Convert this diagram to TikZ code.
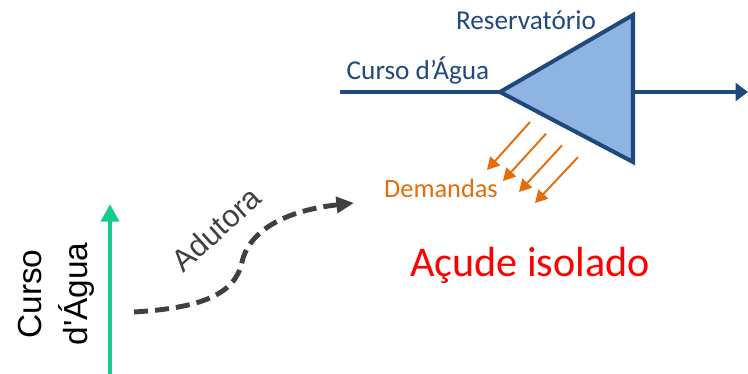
\documentclass[tikz,border=0pt]{standalone}
\usepackage{fontspec}
\usepackage{xcolor}
\usetikzlibrary{arrows.meta}
\setmainfont{Carlito}
\newfontfamily\arialfont{Liberation Sans}
\definecolor{riverblue}{RGB}{31,73,125}
\definecolor{lakefill}{RGB}{142,180,227}
\definecolor{demandorange}{RGB}{228,108,10}
\definecolor{streamgreen}{RGB}{20,204,140}
\definecolor{pipegray}{RGB}{64,64,64}

\begin{document}
\begin{tikzpicture}[x=0.02cm, y=-0.02cm,
  river/.style={riverblue, line width=2.3pt},
  demand/.style={demandorange, line width=1.1pt, -{Triangle[length=7pt, width=7.5pt]}},
  pipe/.style={pipegray, line width=2.8pt, dash pattern=on 8pt off 4pt, -{Triangle[length=10pt, width=9pt]}},
  stream/.style={streamgreen, line width=2.8pt, -{Triangle[length=10pt, width=10pt]}}]
\useasboundingbox (0, 0) rectangle (748, 374);
% reservoir
\coordinate (tipL) at (500, 92);
\coordinate (topR) at (633, 15);
\coordinate (botR) at (633, 162);
\coordinate (outR) at (633, 92);
\coordinate (inflow) at (340, 92);
\coordinate (outflow) at (748, 92);
\draw[river, fill=lakefill, line join=miter] (tipL) -- (topR) -- (botR) -- cycle;
\draw[river] (inflow) -- (tipL);
\draw[river, -{Triangle[length=7pt, width=10pt]}] (outR) -- (outflow);
\node[riverblue, font=\fontsize{15.5}{18}\selectfont, anchor=base] (resv) at (526, 30) {Reservatório};
\node[riverblue, font=\fontsize{15.5}{18}\selectfont, anchor=base] (curso) at (418, 80) {Curso d’Água};
% demands
\foreach \i in {0,...,3} {
  \coordinate (d\i a) at (530+16*\i, 122+11.7*\i);
  \coordinate (d\i b) at (487+16*\i, 170+11*\i);
  \draw[demand] (d\i a) -- (d\i b);
}
\node[demandorange, font=\fontsize{15}{18}\selectfont, anchor=base] (dem) at (441, 198) {Demandas};
\node[red, font=\fontsize{24}{28}\selectfont, anchor=base] (acude) at (530, 277) {Açude isolado};
% left side
\coordinate (s0) at (110, 374);
\coordinate (s1) at (110, 204);
\draw[stream] (s0) -- (s1);
\node[align=center, rotate=90, inner sep=0pt, font=\arialfont\fontsize{19}{26}\selectfont] (cdagua) at (56, 294) {Curso\\d'Água};
\coordinate (p0) at (134, 312);
\coordinate (p1) at (242, 262);
\coordinate (p2) at (354, 203);
\draw[pipe] (p0) .. controls (200, 308) and (235, 295) .. (p1)
  .. controls (250, 228) and (290, 210) .. (p2);
\node[pipegray, rotate=42, inner sep=0pt, font=\arialfont\fontsize{17.5}{20}\selectfont] (adut) at (216, 229) {Adutora};
\end{tikzpicture}
\end{document}
